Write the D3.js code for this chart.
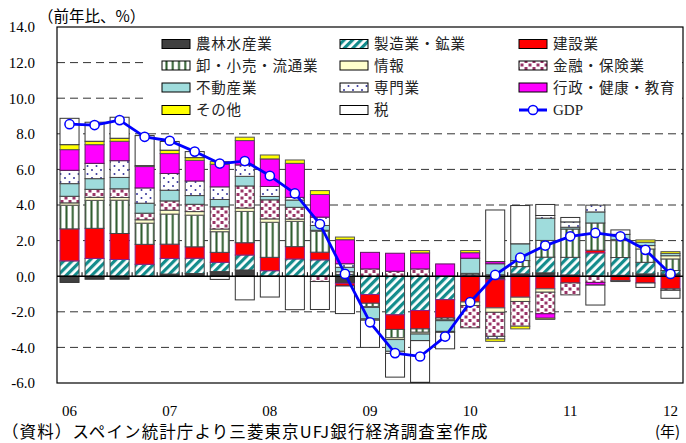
<!DOCTYPE html>
<html>
<head>
<meta charset="utf-8">
<script src="https://cdn.jsdelivr.net/npm/d3@7"></script>
<style>
  html, body { margin: 0; padding: 0; background: #fff; }
  svg { display: block; }
</style>
</head>
<body>
<svg id="chart" width="686" height="443"></svg>
<script>
// Quarters 2006Q1 – 2012Q1
const quarters = [
  "06Q1","06Q2","06Q3","06Q4","07Q1","07Q2","07Q3","07Q4",
  "08Q1","08Q2","08Q3","08Q4","09Q1","09Q2","09Q3","09Q4",
  "10Q1","10Q2","10Q3","10Q4","11Q1","11Q2","11Q3","11Q4","12Q1"
];
const yearTicks = ["06Q1","07Q1","08Q1","09Q1","10Q1","11Q1","12Q1"];
const yearLabels = ["06","07","08","09","10","11","12"];
const yTicks = [-6, -4, -2, 0, 2, 4, 6, 8, 10, 12, 14];

// Contributions to GDP growth (percentage points), by sector
const agriculture   = [-0.35,-0.17,-0.17, 0.00, 0.12, 0.15, 0.26, 0.35, 0.00, 0.00, 0.00,-0.40, 0.00, 0.00, 0.00, 0.00, 0.00,-0.20, 0.13, 0.19, 0.07, 0.00, 0.05, 0.13, 0.12];
const manufacturing = [ 0.86, 1.00, 0.94, 0.67, 0.88, 0.86, 0.52, 0.84, 0.31, 0.97, 0.92, 0.10,-1.03,-2.17,-1.93,-1.32, 0.08, 0.08, 0.41, 0.88, 0.99, 1.31, 1.00, 0.65, 0.20];
const construction  = [ 1.80, 1.69, 1.46, 1.12, 0.80, 0.64, 0.56, 0.69, 0.75, 0.69, 0.43,-0.15,-0.49,-0.82,-1.03,-1.03,-1.45,-1.58,-1.18,-0.71,-0.38, 0.15,-0.25,-0.38,-0.71];
const trade         = [ 1.33, 1.57, 1.87, 1.19, 1.69, 1.78, 1.16, 1.76, 1.97, 1.42, 1.18, 0.15,-0.19,-0.47,-0.19,-0.10, 0.08, 0.00, 0.34, 0.94, 1.59, 1.53, 0.95, 0.75, 0.65];
const information   = [ 0.13, 0.17, 0.15, 0.19, 0.22, 0.20, 0.15, 0.19, 0.19, 0.13, 0.05, 0.00,-0.04,-0.10,-0.10,-0.05,-0.20,-0.25,-0.24,-0.19, 0.00, 0.00, 0.05, 0.19, 0.18];
const finance       = [ 0.37, 0.45, 0.49, 0.37, 0.52, 0.41, 1.25, 1.24, 1.07, 0.66,-0.30, 0.00, 0.41, 0.28, 0.41, 0.00,-1.25,-1.35,-1.39,-1.21,-0.67,-0.35,-0.05, 0.00,-0.08];
const realEstate    = [ 0.71, 0.60, 0.64, 0.56, 0.60, 0.49, 0.41, 0.54, 0.19, 0.41, 0.27, 0.25,-0.65,-0.66,-0.37,-0.60, 0.85, 0.62, 0.94, 1.25, 0.10, 0.62, 0.30, 0.19, 0.13];
const professional  = [ 0.75, 0.86, 0.94, 0.86, 0.94, 0.82, 0.71, 0.64, 0.56, 0.15, 0.47, 0.20,-0.07,-0.12, 0.00,-0.05, 0.00,-0.15, 0.00, 0.15, 0.30, 0.38, 0.00, 0.00, 0.00];
const publicSector  = [ 1.16, 1.05, 1.09, 1.20, 1.12, 1.16, 1.27, 1.37, 1.55, 1.91, 1.27, 1.35, 0.93, 1.01, 0.90, 0.69, 0.31, 0.12, 0.00,-0.25, 0.00,-0.15, 0.00, 0.00, 0.00];
const other         = [ 0.28, 0.19, 0.17, 0.05, 0.19, 0.15, 0.15, 0.19, 0.22, 0.19, 0.22, 0.15, 0.00, 0.00, 0.13, 0.00, 0.12,-0.13,-0.15,-0.07, 0.00, 0.00, 0.00, 0.13, 0.10];
const taxes         = [ 1.48, 1.07, 1.18, 1.69, 0.49, 0.34,-0.18,-1.33,-1.17,-1.88,-1.57,-1.55,-1.53,-1.33,-2.34,-0.93, 0.00, 2.90, 2.15, 0.62, 0.25,-1.12, 0.25,-0.25,-0.45];
// Real GDP, year-on-year %
const gdp           = [ 8.54, 8.49, 8.77, 7.83, 7.61, 7.00, 6.33, 6.47, 5.64, 4.65, 2.93, 0.13,-2.59,-4.32,-4.51,-3.39,-1.46, 0.07, 1.04, 1.72, 2.24, 2.43, 2.24, 1.48, 0.13];

const seriesNames = ["農林水産業","製造業・鉱業","建設業","卸・小売・流通業","情報","金融・保険業","不動産業","専門業","行政・健康・教育","その他","税"];
const seriesValues = [agriculture, manufacturing, construction, trade, information, finance, realEstate, professional, publicSector, other, taxes];
const seriesFills = ["#404040","url(#pat-mfg)","#ff0000","url(#pat-trade)","#ffffcc","url(#pat-fin)","#9fdcdc","url(#pat-prof)","#ff00ff","#ffff00","#ffffff"];
const seriesStrokes = ["#333","#444","#8a1f8a","#444","#555","#444","#444","#444","#5a1a5a","#555","#333"];

const svg = d3.select("#chart");
const fontJP = "'Noto Sans CJK JP', sans-serif";
const fontNum = "'Liberation Serif', 'Times New Roman', serif";

// ---- patterns ----
const defs = svg.append("defs");
const pMfg = defs.append("pattern").attr("id", "pat-mfg").attr("patternUnits", "userSpaceOnUse")
  .attr("width", 6).attr("height", 6).attr("patternTransform", "rotate(45)");
pMfg.append("rect").attr("width", 6).attr("height", 6).attr("fill", "#fff");
pMfg.append("rect").attr("width", 3.2).attr("height", 6).attr("fill", "#138c8c");

const pTrade = defs.append("pattern").attr("id", "pat-trade").attr("patternUnits", "userSpaceOnUse")
  .attr("width", 6.25).attr("height", 10);
pTrade.append("rect").attr("width", 6.25).attr("height", 10).attr("fill", "#fff");
pTrade.append("rect").attr("x", 3).attr("width", 2).attr("height", 10).attr("fill", "#2e5e2e");

const pFin = defs.append("pattern").attr("id", "pat-fin").attr("patternUnits", "userSpaceOnUse")
  .attr("width", 8).attr("height", 7);
pFin.append("rect").attr("width", 8).attr("height", 7).attr("fill", "#fff");
pFin.append("rect").attr("x", 0.5).attr("y", 0.5).attr("width", 3).attr("height", 3).attr("fill", "#993366");
pFin.append("rect").attr("x", 4.5).attr("y", 4).attr("width", 3).attr("height", 3).attr("fill", "#993366");

const pProf = defs.append("pattern").attr("id", "pat-prof").attr("patternUnits", "userSpaceOnUse")
  .attr("width", 9).attr("height", 8);
pProf.append("rect").attr("width", 9).attr("height", 8).attr("fill", "#fff");
pProf.append("circle").attr("cx", 2).attr("cy", 2).attr("r", 1).attr("fill", "#33339a");
pProf.append("circle").attr("cx", 6.5).attr("cy", 6).attr("r", 1).attr("fill", "#33339a");

// ---- scales ----
const plot = { left: 57, right: 683, top: 27, bottom: 383 };
const x = d3.scaleBand().domain(quarters).range([plot.left, plot.right])
  .paddingInner(0.24).paddingOuter(0.12);
const y = d3.scaleLinear().domain([-6, 14]).range([plot.bottom, plot.top]);

// ---- gridlines ----
svg.append("g").selectAll("line")
  .data(yTicks.filter(v => v !== 0 && v !== -6 && v !== 14))
  .join("line")
  .attr("x1", plot.left).attr("x2", plot.right)
  .attr("y1", d => y(d)).attr("y2", d => y(d))
  .attr("stroke", "#333").attr("stroke-width", 1)
  .attr("stroke-dasharray", "8,5");

// ---- legend background ----
svg.append("rect").attr("x", 148).attr("y", 33).attr("width", 534).attr("height", 84).attr("fill", "#fff");

// ---- stacked bars ----
const rows = quarters.map((q, i) => {
  const r = { q };
  seriesNames.forEach((n, k) => { r[n] = seriesValues[k][i]; });
  return r;
});
const stacked = d3.stack().keys(seriesNames).offset(d3.stackOffsetDiverging)(rows);

const barG = svg.append("g");
stacked.forEach((layer, k) => {
  barG.append("g")
    .selectAll("rect")
    .data(layer.filter(d => Math.abs(d[1] - d[0]) > 1e-9))
    .join("rect")
    .attr("x", d => x(d.data.q))
    .attr("width", x.bandwidth())
    .attr("y", d => y(Math.max(d[0], d[1])))
    .attr("height", d => Math.abs(y(d[0]) - y(d[1])))
    .attr("fill", seriesFills[k])
    .attr("stroke", seriesStrokes[k])
    .attr("stroke-width", 1);
});

// ---- zero line with small ticks between bars ----
svg.append("line")
  .attr("x1", plot.left).attr("x2", plot.right)
  .attr("y1", y(0)).attr("y2", y(0))
  .attr("stroke", "#000").attr("stroke-width", 1.5);
const boundaries = quarters.slice(0, -1).map(q => x(q) + x.bandwidth() + (x.step() - x.bandwidth()) / 2);
svg.append("g").selectAll("line").data(boundaries).join("line")
  .attr("x1", d => d).attr("x2", d => d)
  .attr("y1", y(0)).attr("y2", y(0) - 4)
  .attr("stroke", "#000").attr("stroke-width", 1);

// ---- frame ----
svg.append("rect")
  .attr("x", plot.left).attr("y", plot.top)
  .attr("width", plot.right - plot.left).attr("height", plot.bottom - plot.top)
  .attr("fill", "none").attr("stroke", "#000").attr("stroke-width", 1.2);

// ---- axes ----
const yAxis = svg.append("g")
  .attr("transform", `translate(${plot.left},0)`)
  .call(d3.axisLeft(y).tickValues(yTicks).tickSize(0).tickPadding(22).tickFormat(d => d.toFixed(1)));
yAxis.select(".domain").remove();
yAxis.selectAll("text").attr("font-family", fontNum).attr("font-size", 15).attr("fill", "#000");

const xAxis = svg.append("g")
  .attr("transform", `translate(0,${plot.bottom})`)
  .call(d3.axisBottom(x).tickValues(yearTicks).tickSize(0).tickPadding(22)
    .tickFormat(q => yearLabels[yearTicks.indexOf(q)]));
xAxis.select(".domain").remove();
xAxis.selectAll("text").attr("font-family", fontNum).attr("font-size", 15).attr("fill", "#000");

// ---- GDP line ----
const line = d3.line().x((d, i) => x(quarters[i]) + x.bandwidth() / 2).y(d => y(d));
svg.append("path").datum(gdp)
  .attr("d", line).attr("fill", "none")
  .attr("stroke", "#0000ff").attr("stroke-width", 2.8).attr("stroke-linejoin", "round");
svg.append("g").selectAll("circle").data(gdp).join("circle")
  .attr("cx", (d, i) => x(quarters[i]) + x.bandwidth() / 2)
  .attr("cy", d => y(d))
  .attr("r", 4.6)
  .attr("fill", "#fff").attr("stroke", "#0000ff").attr("stroke-width", 1.5);

// ---- legend ----
const legendItems = seriesNames.map((n, k) => ({ name: n, fill: seriesFills[k], type: "rect" }))
  .concat([{ name: "GDP", type: "line" }]);
const colX = [162, 340, 519];
const rowY = [44, 65.5, 87.5, 110];
const lg = svg.append("g");
legendItems.forEach((it, i) => {
  const cx = colX[i % 3], cy = rowY[Math.floor(i / 3)];
  if (it.type === "rect") {
    lg.append("rect").attr("x", cx).attr("y", cy - 4.5).attr("width", 28).attr("height", 9)
      .attr("fill", it.fill).attr("stroke", "#000").attr("stroke-width", 1);
  } else {
    lg.append("line").attr("x1", cx).attr("x2", cx + 28).attr("y1", cy).attr("y2", cy)
      .attr("stroke", "#0000ff").attr("stroke-width", 3);
    lg.append("circle").attr("cx", cx + 14).attr("cy", cy).attr("r", 4.6)
      .attr("fill", "#fff").attr("stroke", "#0000ff").attr("stroke-width", 1.5);
  }
  lg.append("text").attr("x", cx + 34).attr("y", cy).attr("dy", "0.36em")
    .attr("font-family", it.type === "line" ? fontNum : fontJP)
    .attr("font-size", it.type === "line" ? 15 : 14.5)
    .attr("letter-spacing", it.type === "line" ? 0 : 0.8)
    .attr("fill", "#222")
    .text(it.name);
});

// ---- titles / notes ----
svg.append("text").attr("x", 38).attr("y", 22)
  .attr("font-family", fontJP).attr("font-size", 15.5).attr("fill", "#000")
  .text("（前年比、%）");
svg.append("text").attr("x", 655).attr("y", 437)
  .attr("font-family", fontJP).attr("font-size", 15).attr("fill", "#000")
  .text("(年)");
svg.append("text").attr("x", 2).attr("y", 438)
  .attr("font-family", fontJP).attr("font-size", 16.5).attr("letter-spacing", 1.1).attr("fill", "#000")
  .text("（資料）スペイン統計庁より三菱東京UFJ銀行経済調査室作成");
</script>
</body>
</html>
